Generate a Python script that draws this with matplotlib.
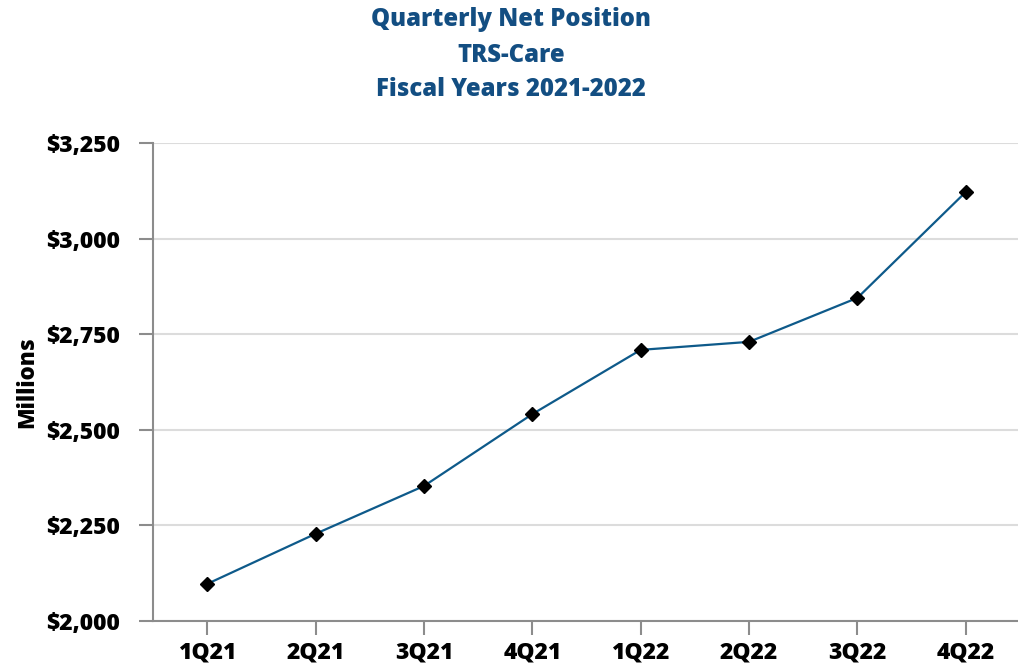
import matplotlib.pyplot as plt

quarters = ["1Q21", "2Q21", "3Q21", "4Q21", "1Q22", "2Q22", "3Q22", "4Q22"]
net_position = [2097, 2228, 2353, 2541, 2709, 2730, 2845, 3122]
y_ticks = [2000, 2250, 2500, 2750, 3000, 3250]

title_color = "#134E82"
line_color = "#0E5A8A"
axis_color = "#8C8C8C"

plt.rcParams['font.family'] = ['Open Sans', 'DejaVu Sans']
plt.rcParams['font.weight'] = 'bold'

fig = plt.figure(figsize=(10.18, 6.68), dpi=100)
ax = fig.add_axes([153 / 1018, 1 - 621 / 668, 867 / 1018, (621 - 143) / 668])

x = list(range(len(quarters)))
ax.plot(x, net_position, color=line_color, linewidth=1.6, marker='D',
        markersize=7.5, markerfacecolor='black', markeredgecolor='black', zorder=3)

ax.set_xlim(-0.5, len(quarters) - 0.5)
ax.set_ylim(2000, 3250)
ax.set_yticks(y_ticks)
ax.set_yticklabels([f"${v:,.0f}" for v in y_ticks])
ax.set_xticks(x)
ax.set_xticklabels(quarters)

ax.grid(axis='y', color='#DCDCDC', linewidth=1.5)
ax.set_axisbelow(True)
for side in ['top', 'right']:
    ax.spines[side].set_visible(False)
for side in ['left', 'bottom']:
    ax.spines[side].set_color(axis_color)
    ax.spines[side].set_linewidth(1.5)

ax.tick_params(axis='both', length=10, width=1.5, color=axis_color,
               labelsize=16.5, labelcolor='black')
ax.tick_params(axis='y', pad=14)
ax.tick_params(axis='x', pad=4)
for lbl in ax.get_xticklabels() + ax.get_yticklabels():
    lbl.set_fontweight('heavy')

ax.set_ylabel("Millions", fontsize=16, fontweight='heavy')
ax.yaxis.set_label_coords(-0.131, 0.5)

fig.text(0.502, 1 - 20 / 668, "Quarterly Net Position", ha='center', va='center',
         fontsize=17.2, fontweight='heavy', color=title_color)
fig.text(0.502, 1 - 55 / 668, "TRS-Care", ha='center', va='center',
         fontsize=17.2, fontweight='heavy', color=title_color)
fig.text(0.502, 1 - 90 / 668, "Fiscal Years 2021-2022", ha='center', va='center',
         fontsize=17.2, fontweight='heavy', color=title_color)

fig.savefig("out.png", dpi=100)
